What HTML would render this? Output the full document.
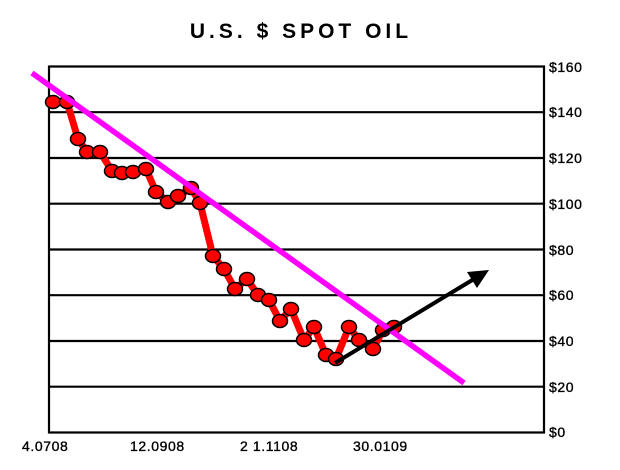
<!DOCTYPE html>
<html><head><meta charset="utf-8"><style>
html,body{margin:0;padding:0;background:#fff;}
svg{display:block;}
</style></head><body>
<svg width="620" height="470" viewBox="0 0 620 470" xmlns="http://www.w3.org/2000/svg">
<rect width="620" height="470" fill="#fff"/>
<text x="301" y="38" text-anchor="middle" font-family="Liberation Sans, sans-serif" font-weight="bold" font-size="21" letter-spacing="4" fill="#000">U.S. $ SPOT OIL</text>
<g stroke="#000" stroke-width="2.2" fill="none">
<line x1="49" y1="66.5" x2="545" y2="66.5"/>
<line x1="49" y1="112.2" x2="545" y2="112.2"/>
<line x1="49" y1="158" x2="545" y2="158"/>
<line x1="49" y1="203.7" x2="545" y2="203.7"/>
<line x1="49" y1="249.5" x2="545" y2="249.5"/>
<line x1="49" y1="295.2" x2="545" y2="295.2"/>
<line x1="49" y1="341" x2="545" y2="341"/>
<line x1="49" y1="386.7" x2="545" y2="386.7"/>
<line x1="49" y1="432.5" x2="545" y2="432.5"/>
<line x1="49" y1="65.5" x2="49" y2="433.5"/>
<line x1="544" y1="65.5" x2="544" y2="433.5"/>
</g>
<g font-family="Liberation Sans, sans-serif" font-size="14" fill="#000" stroke="#000" stroke-width="0.35" letter-spacing="0.6">
<text x="549" y="72">$160</text>
<text x="549" y="117">$140</text>
<text x="549" y="163">$120</text>
<text x="549" y="209">$100</text>
<text x="549" y="255">$80</text>
<text x="549" y="300">$60</text>
<text x="549" y="346">$40</text>
<text x="549" y="392">$20</text>
<text x="549" y="437">$0</text>
<text x="22" y="451">4.0708</text>
<text x="130" y="451">12.0908</text>
<text x="240" y="451">2 1.1108</text>
<text x="353" y="451">30.0109</text>
</g>
<polyline fill="none" stroke="#ff0000" stroke-width="7" stroke-linejoin="round" points="53,102 67,102 78,139 87,152 100,152 112,171 122,173 133,172 146,169 156,192 168,202 178,196 191,188 200,203 213,256 224,269 235,289 247,279 258,295 269,300 280,321 291,309 304,340 314,327 326,355 336,359 349,327 359,340 373,349 383,330 394,327"/>
<g fill="#ff0000" stroke="#000" stroke-width="1.5">
<ellipse cx="53" cy="102" rx="7.5" ry="6.5"/><ellipse cx="67" cy="102" rx="7.5" ry="6.5"/><ellipse cx="78" cy="139" rx="7.5" ry="6.5"/><ellipse cx="87" cy="152" rx="7.5" ry="6.5"/><ellipse cx="100" cy="152" rx="7.5" ry="6.5"/><ellipse cx="112" cy="171" rx="7.5" ry="6.5"/><ellipse cx="122" cy="173" rx="7.5" ry="6.5"/><ellipse cx="133" cy="172" rx="7.5" ry="6.5"/><ellipse cx="146" cy="169" rx="7.5" ry="6.5"/><ellipse cx="156" cy="192" rx="7.5" ry="6.5"/><ellipse cx="168" cy="202" rx="7.5" ry="6.5"/><ellipse cx="178" cy="196" rx="7.5" ry="6.5"/><ellipse cx="191" cy="188" rx="7.5" ry="6.5"/><ellipse cx="200" cy="203" rx="7.5" ry="6.5"/><ellipse cx="213" cy="256" rx="7.5" ry="6.5"/><ellipse cx="224" cy="269" rx="7.5" ry="6.5"/><ellipse cx="235" cy="289" rx="7.5" ry="6.5"/><ellipse cx="247" cy="279" rx="7.5" ry="6.5"/><ellipse cx="258" cy="295" rx="7.5" ry="6.5"/><ellipse cx="269" cy="300" rx="7.5" ry="6.5"/><ellipse cx="280" cy="321" rx="7.5" ry="6.5"/><ellipse cx="291" cy="309" rx="7.5" ry="6.5"/><ellipse cx="304" cy="340" rx="7.5" ry="6.5"/><ellipse cx="314" cy="327" rx="7.5" ry="6.5"/><ellipse cx="326" cy="355" rx="7.5" ry="6.5"/><ellipse cx="336" cy="359" rx="7.5" ry="6.5"/><ellipse cx="349" cy="327" rx="7.5" ry="6.5"/><ellipse cx="359" cy="340" rx="7.5" ry="6.5"/><ellipse cx="373" cy="349" rx="7.5" ry="6.5"/><ellipse cx="383" cy="330" rx="7.5" ry="6.5"/><ellipse cx="394" cy="327" rx="7.5" ry="6.5"/>
</g>
<line x1="32" y1="73" x2="464" y2="383" stroke="#ff00ff" stroke-width="5.5"/>
<line x1="335" y1="363" x2="474" y2="279" stroke="#000" stroke-width="4"/>
<polygon points="489,270 467,272 477,288" fill="#000"/>
</svg>
</body></html>
